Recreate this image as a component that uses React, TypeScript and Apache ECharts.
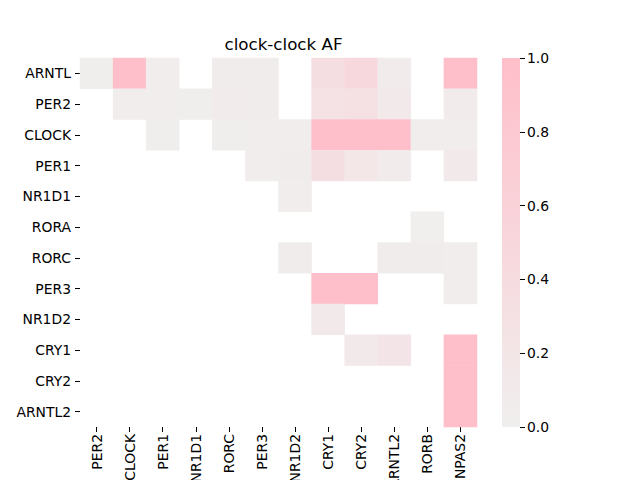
import { useEffect, useRef } from 'react'
import * as echarts from 'echarts'

// ── Data ──────────────────────────────────────────────────────────────────────

const rowGenes = ['ARNTL', 'PER2', 'CLOCK', 'PER1', 'NR1D1', 'RORA', 'RORC', 'PER3', 'NR1D2', 'CRY1', 'CRY2', 'ARNTL2']
const colGenes = ['PER2', 'CLOCK', 'PER1', 'NR1D1', 'RORC', 'PER3', 'NR1D2', 'CRY1', 'CRY2', 'ARNTL2', 'RORB', 'NPAS2']

// null = no value (left blank)
const afValues: (number | null)[][] = [
  [0.03, 1.0, 0.05, null, 0.06, 0.06, null, 0.36, 0.47, 0.08, null, 1.0],
  [null, 0.05, 0.04, 0.03, 0.08, 0.06, null, 0.28, 0.3, 0.11, null, 0.07],
  [null, null, 0.03, null, 0.03, 0.05, 0.05, 1.0, 1.0, 1.0, 0.05, 0.05],
  [null, null, null, null, null, 0.05, 0.06, 0.36, 0.17, 0.08, null, 0.1],
  [null, null, null, null, null, null, 0.05, null, null, null, null, null],
  [null, null, null, null, null, null, null, null, null, null, 0.0, null],
  [null, null, null, null, null, null, 0.06, null, null, 0.06, 0.06, 0.05],
  [null, null, null, null, null, null, null, 1.0, 1.0, null, null, 0.04],
  [null, null, null, null, null, null, null, 0.12, null, null, null, null],
  [null, null, null, null, null, null, null, null, 0.12, 0.2, null, 1.0],
  [null, null, null, null, null, null, null, null, null, null, null, 1.0],
  [null, null, null, null, null, null, null, null, null, null, null, 1.0],
]

const colorbarTicks = [0, 0.2, 0.4, 0.6, 0.8, 1.0]
const lowColor = '#f0efee'
const highColor = '#ffbfca'

const FONT = 'DejaVu Sans'

export default function App() {
  const ref = useRef<HTMLDivElement>(null)

  useEffect(() => {
    if (!ref.current) return
    const chart = echarts.init(ref.current, null, { renderer: 'svg' })

    const cells: [number, number, number][] = []
    afValues.forEach((row, r) => {
      row.forEach((v, c) => {
        if (v != null) cells.push([c, r, v])
      })
    })

    const grid = { left: 80, top: 58, width: 397, height: 369 }
    const bar = { left: 502, top: 58, width: 18, height: 369 }

    chart.setOption({
      animation: false,
      backgroundColor: '#ffffff',
      textStyle: { fontFamily: FONT },
      title: {
        text: 'clock-clock AF',
        left: 278.5,
        top: 30,
        textAlign: 'center',
        textStyle: { fontFamily: FONT, fontSize: 16.7, fontWeight: 'normal', color: '#000' },
      },
      grid: [
        { ...grid, containLabel: false, outerBoundsMode: 'none' },
        { ...bar, containLabel: false, outerBoundsMode: 'none' },
      ],
      xAxis: [
        {
          type: 'category',
          gridIndex: 0,
          data: colGenes,
          position: 'bottom',
          axisLine: { show: false },
          axisTick: { show: true, alignWithLabel: true, length: 5, lineStyle: { color: '#000' } },
          axisLabel: { rotate: 90, fontSize: 13.9, color: '#000', fontFamily: FONT, margin: 7 },
          splitLine: { show: false },
        },
        {
          type: 'category',
          gridIndex: 1,
          data: ['cb'],
          show: false,
        },
      ],
      yAxis: [
        {
          type: 'category',
          gridIndex: 0,
          data: rowGenes,
          inverse: true,
          axisLine: { show: false },
          axisTick: { show: true, alignWithLabel: true, length: 5, lineStyle: { color: '#000' } },
          axisLabel: { fontSize: 13.9, color: '#000', fontFamily: FONT, margin: 9 },
          splitLine: { show: false },
        },
        {
          type: 'value',
          gridIndex: 1,
          min: 0,
          max: 1,
          interval: 0.2,
          position: 'right',
          axisLine: { show: false },
          axisTick: { show: true, inside: false, length: 5, lineStyle: { color: '#000' } },
          axisLabel: {
            fontSize: 13.9,
            color: '#000',
            fontFamily: FONT,
            margin: 7,
            formatter: (v: number) => (colorbarTicks.some((t) => Math.abs(t - v) < 1e-6) ? v.toFixed(1) : ''),
          },
          splitLine: { show: false },
        },
      ],
      visualMap: {
        show: false,
        type: 'continuous',
        min: 0,
        max: 1,
        seriesIndex: 0,
        inRange: { color: [lowColor, highColor] },
      },
      graphic: [
        {
          type: 'rect',
          shape: { x: bar.left, y: bar.top, width: bar.width, height: bar.height },
          style: {
            fill: new echarts.graphic.LinearGradient(0, 1, 0, 0, [
              { offset: 0, color: lowColor },
              { offset: 1, color: highColor },
            ]),
          },
          z: -1,
        },
      ],
      series: [
        {
          type: 'heatmap',
          xAxisIndex: 0,
          yAxisIndex: 0,
          data: cells,
          itemStyle: { borderWidth: 0 },
          emphasis: { disabled: true },
        },
      ],
    })

    return () => chart.dispose()
  }, [])

  return (
    <div
      ref={ref}
      style={{ position: 'fixed', left: 0, top: 0, width: 640, height: 480, overflow: 'hidden' }}
    />
  )
}
